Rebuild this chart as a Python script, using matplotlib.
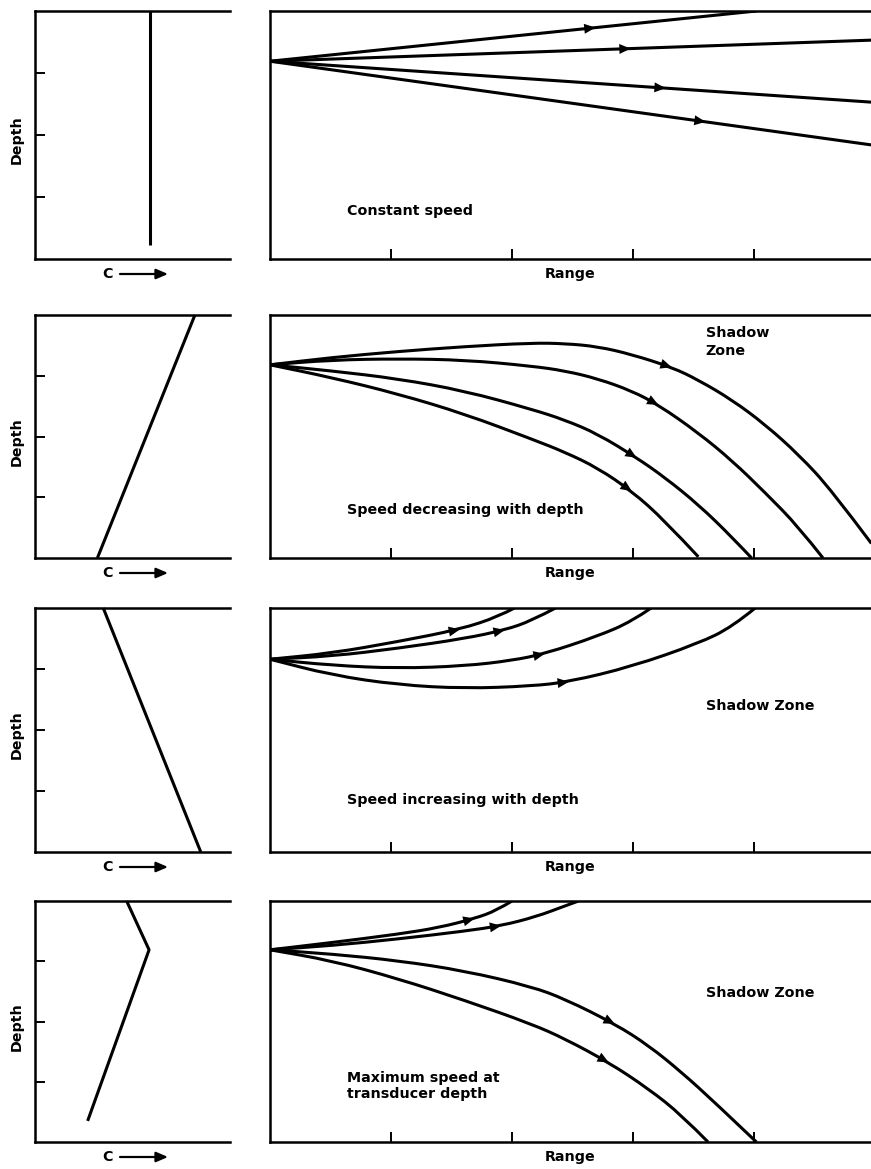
import numpy as np
import matplotlib
matplotlib.use("Agg")
import matplotlib.pyplot as plt
from matplotlib.path import Path
from matplotlib.patches import PathPatch, FancyArrowPatch

# ---------------- data ----------------
# sound-speed profiles (left panels): speed (relative units 0..1) vs depth (0..4)
profile_speed = [[0.59, 0.59], [0.82, 0.32], [0.35, 0.85], [0.47, 0.585, 0.27]]
profile_depth = [[0.0, 3.77], [0.0, 4.0], [0.0, 4.0], [0.0, 0.81, 3.65]]

# ray paths (right panels): range (0..5) and depth (0..4)
row1_range = [[0, 4.02], [0, 4.97], [0, 4.97], [0, 4.97]]
row1_depth = [[0.81, 0.0], [0.81, 0.47], [0.81, 1.47], [0.81, 2.16]]
row1_arrows = [2.69, 2.98, 3.27, 3.60]

row2_range = [
    [0, 0.51, 1.06, 1.61, 2.16, 2.44, 2.71, 2.99, 3.32, 3.54, 3.82, 4.09, 4.37, 4.64, 4.97],
    [0, 0.51, 1.06, 1.61, 2.16, 2.44, 2.71, 2.99, 3.21, 3.54, 3.82, 4.09, 4.37, 4.57],
    [0, 0.51, 1.06, 1.61, 2.16, 2.44, 2.71, 3.03, 3.26, 3.54, 3.82, 3.98],
    [0, 0.51, 1.06, 1.61, 2.16, 2.44, 2.71, 2.99, 3.26, 3.54],
]
row2_depth = [
    [0.82, 0.70, 0.60, 0.52, 0.46, 0.47, 0.52, 0.65, 0.86, 1.07, 1.40, 1.80, 2.30, 2.88, 3.76],
    [0.82, 0.74, 0.72, 0.74, 0.84, 0.92, 1.05, 1.25, 1.48, 1.94, 2.40, 2.92, 3.49, 4.0],
    [0.82, 0.92, 1.05, 1.25, 1.55, 1.73, 1.96, 2.35, 2.67, 3.12, 3.66, 4.0],
    [0.82, 1.03, 1.30, 1.63, 2.04, 2.26, 2.52, 2.90, 3.38, 3.98],
]
row2_arrows = [3.32, 3.21, 3.03, 2.99]

row3_range = [
    [0, 0.51, 1.06, 1.57, 1.89, 2.02],
    [0, 0.51, 1.06, 1.61, 1.94, 2.16, 2.36],
    [0, 0.51, 1.06, 1.61, 2.0, 2.27, 2.71, 2.99, 3.15],
    [0, 0.51, 1.06, 1.61, 2.16, 2.47, 2.99, 3.54, 3.82, 4.01],
]
row3_depth = [
    [0.84, 0.74, 0.55, 0.35, 0.14, 0.0],
    [0.84, 0.79, 0.66, 0.50, 0.36, 0.21, 0.0],
    [0.84, 0.94, 0.99, 0.95, 0.86, 0.75, 0.46, 0.22, 0.0],
    [0.84, 1.10, 1.26, 1.32, 1.28, 1.21, 0.96, 0.58, 0.31, 0.0],
]
row3_arrows = [1.57, 1.94, 2.27, 2.47]

row4_range = [
    [0, 0.51, 1.06, 1.40, 1.69, 1.87, 2.0],
    [0, 0.51, 1.06, 1.61, 1.91, 2.2, 2.44, 2.55],
    [0, 0.51, 1.06, 1.61, 2.16, 2.44, 2.85, 3.13, 3.40, 3.68, 4.02],
    [0, 0.51, 1.06, 1.61, 2.16, 2.44, 2.80, 3.13, 3.40, 3.62],
]
row4_depth = [
    [0.81, 0.69, 0.55, 0.44, 0.29, 0.16, 0.0],
    [0.81, 0.74, 0.63, 0.50, 0.41, 0.26, 0.08, 0.0],
    [0.81, 0.88, 0.99, 1.16, 1.42, 1.63, 2.04, 2.40, 2.84, 3.35, 4.0],
    [0.81, 0.99, 1.29, 1.65, 2.04, 2.29, 2.68, 3.12, 3.55, 4.0],
]
row4_arrows = [1.69, 1.91, 2.85, 2.80]

ray_ranges = [row1_range, row2_range, row3_range, row4_range]
ray_depths = [row1_depth, row2_depth, row3_depth, row4_depth]
ray_arrows = [row1_arrows, row2_arrows, row3_arrows, row4_arrows]

case_labels = ["Constant speed", "Speed decreasing with depth",
               "Speed increasing with depth", "Maximum speed at\ntransducer depth"]
case_label_pos = [(0.64, 3.23), (0.64, 3.21), (0.64, 3.15), (0.64, 3.07)]
shadow_labels = [None, "Shadow\nZone", "Shadow Zone", "Shadow Zone"]
shadow_label_pos = [None, (3.6, 0.45), (3.6, 1.6), (3.6, 1.52)]

depth_ticks = [1, 2, 3]
range_ticks = [1, 2, 3, 4]

# ---------------- layout ----------------
W, H = 871, 1169
plt.rcParams["font.family"] = ["DejaVu Sans"]
fig = plt.figure(figsize=(W / 100, H / 100), dpi=100)

rows_px = [(11, 259), (315, 558), (608, 852), (901, 1142)]
left_x = (35, 230)
right_x = (270, 875)

SPINE_LW = 1.8
RAY_LW = 2.2
TXT = dict(fontsize=10.3, fontweight="bold")
LBL = dict(fontsize=10.3, fontweight="bold")


def style(ax, ticks_axis):
    for s in ["top", "bottom", "left"]:
        ax.spines[s].set_linewidth(SPINE_LW)
        ax.spines[s].set_color("black")
    ax.spines["right"].set_visible(False)
    ax.tick_params(direction="in", length=7, width=1.4, color="black",
                   labelleft=False, labelbottom=False)
    if ticks_axis == "y":
        ax.set_xticks([])
        ax.set_yticks(depth_ticks)
    else:
        ax.set_yticks([])
        ax.set_xticks(range_ticks)


def smooth_ray(ax, xs, ys):
    pts = list(zip(xs, ys))
    if len(pts) <= 2:
        verts, codes = pts, [Path.MOVETO, Path.LINETO]
    else:
        verts = [pts[0]]
        codes = [Path.MOVETO]
        m = ((pts[0][0] + pts[1][0]) / 2, (pts[0][1] + pts[1][1]) / 2)
        verts.append(m)
        codes.append(Path.LINETO)
        for k in range(1, len(pts) - 1):
            nxt = pts[k + 1]
            if k < len(pts) - 2:
                end = ((pts[k][0] + nxt[0]) / 2, (pts[k][1] + nxt[1]) / 2)
            else:
                end = nxt
            verts += [pts[k], end]
            codes += [Path.CURVE3, Path.CURVE3]
    patch = PathPatch(Path(verts, codes), facecolor="none", edgecolor="black",
                      lw=RAY_LW, capstyle="butt", joinstyle="round",
                      transform=ax.transData)
    ax.add_patch(patch)


for i, (top, bot) in enumerate(rows_px):
    y0 = 1 - bot / H
    hgt = (bot - top) / H
    # ---- left: sound-speed profile ----
    axl = fig.add_axes([left_x[0] / W, y0, (left_x[1] - left_x[0]) / W, hgt])
    axl.set_xlim(0, 1)
    axl.set_ylim(4, 0)
    style(axl, "y")
    axl.plot(profile_speed[i], profile_depth[i], color="black", lw=RAY_LW,
             solid_capstyle="butt", clip_on=False)
    axl.annotate("Depth", xy=(0, 0.48), xycoords="axes fraction",
                 xytext=(-13, 0), textcoords="offset points", rotation=90,
                 ha="center", va="center", **LBL)
    axl.annotate("C", xy=(0.37, 0), xycoords="axes fraction",
                 xytext=(0, -11), textcoords="offset points",
                 ha="center", va="center", **LBL)

    # ---- right: ray paths ----
    axr = fig.add_axes([right_x[0] / W, y0, (right_x[1] - right_x[0]) / W, hgt])
    axr.set_xlim(0, 5)
    axr.set_ylim(4, 0)
    style(axr, "x")
    for rr, dd, ra in zip(ray_ranges[i], ray_depths[i], ray_arrows[i]):
        smooth_ray(axr, rr, dd)
        da = np.interp(ra, rr, dd)
        db = np.interp(ra - 0.1, rr, dd)
        axr.annotate("", xy=(ra, da), xytext=(ra - 0.1, db),
                     arrowprops=dict(arrowstyle="-|>,head_length=0.9,head_width=0.4",
                                     color="black", lw=0, mutation_scale=9,
                                     shrinkA=0, shrinkB=0))
    axr.annotate("Range", xy=(300 / 605, 0), xycoords="axes fraction",
                 xytext=(0, -11), textcoords="offset points",
                 ha="center", va="center", **LBL)
    cx, cy = case_label_pos[i]
    axr.text(cx, cy, case_labels[i], ha="left", va="center",
             linespacing=1.25, **TXT)
    if shadow_labels[i]:
        sx, sy = shadow_label_pos[i]
        axr.text(sx, sy, shadow_labels[i], ha="left", va="center",
                 linespacing=1.35, **TXT)

# the "C ->" arrows below each profile panel
for i, (top, bot) in enumerate(rows_px):
    yy = 1 - (bot + 15) / H
    fig.patches.append(FancyArrowPatch(
        (120 / W, yy), (168 / W, yy), transform=fig.transFigure,
        arrowstyle="-|>,head_length=0.7,head_width=0.3", mutation_scale=10,
        color="black", lw=1.6, shrinkA=0, shrinkB=0))

fig.savefig("out.png", dpi=100)
